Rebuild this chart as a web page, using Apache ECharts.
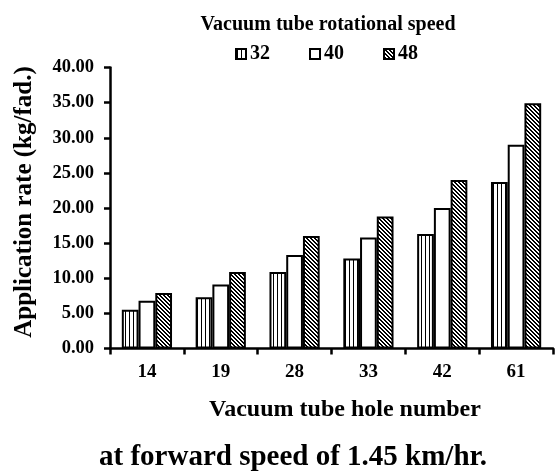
<!DOCTYPE html>
<html>
<head>
<meta charset="utf-8">
<script src="https://cdn.jsdelivr.net/npm/echarts@6/dist/echarts.min.js"></script>
<style>
html,body{margin:0;padding:0;background:#fff;}
#main{width:555px;height:474px;}
</style>
</head>
<body>
<div id="main"></div>
<script>
// hole numbers and application rate (kg/fad.) per rotational speed
var holes = ['14', '19', '28', '33', '42', '61'];
var speeds = ['32', '40', '48'];
var rate32 = [5.5, 7.3, 10.9, 12.8, 16.3, 23.7];
var rate40 = [6.8, 9.1, 13.3, 15.8, 20.0, 29.0];
var rate48 = [7.9, 10.9, 16.0, 18.8, 24.0, 34.9];
var yTicks = [0, 5, 10, 15, 20, 25, 30, 35, 40];

var FONT = "'Liberation Serif', 'Times New Roman', serif";

// fill patterns: vertical stripes and back-slash hatch
function stripes(){
	var c = document.createElement('canvas');
	c.width = 4; c.height = 4;
	var g = c.getContext('2d');
	g.fillStyle = '#fff'; g.fillRect(0,0,4,4);
	g.fillStyle = '#000'; g.fillRect(1,0,1,4);
	return c;
}
function hatch(){
	var n = 4;
	var c = document.createElement('canvas');
	c.width = n; c.height = n;
	var g = c.getContext('2d');
	g.fillStyle = '#fff'; g.fillRect(0,0,n,n);
	g.fillStyle = '#000';
	for(var x=0;x<n;x++){
		for(var y=0;y<n;y++){
			if((x - y + n) % n == 0 || (x - y + n) % n == 1) g.fillRect(x,y,1,1);
		}
	}
	return c;
}

var fills = [
	{image: stripes(), repeat: 'repeat'},
	'#ffffff',
	{image: hatch(), repeat: 'repeat'}
];
var values = [rate32, rate40, rate48];

var myChart = echarts.init(document.getElementById('main'));
var option = {
	animation: false,
	backgroundColor: '#fff',
	textStyle: {fontFamily: FONT, color: '#000'},
	title: {
		text: 'Vacuum tube rotational speed',
		left: 323, top: 10,
		textAlign: 'center',
		textStyle: {fontFamily: FONT, fontWeight: 'bold', fontSize: 20, color: '#000'}
	},
	legend: {
		left: 230, top: 39,
		icon: 'rect',
		itemWidth: 10, itemHeight: 10,
		itemGap: 39,
		data: speeds,
		textStyle: {fontFamily: FONT, fontWeight: 'bold', fontSize: 20, color: '#000', padding: [0,0,0,-1]}
	},
	grid: {left: 110, right: 2, top: 67.5, bottom: 125.5, outerBoundsMode: 'none'},
	xAxis: {
		type: 'category',
		data: holes,
		axisLine: {lineStyle: {color: '#000', width: 2.5}},
		axisTick: {show: true, length: 6, lineStyle: {color: '#000', width: 2.5}},
		axisLabel: {margin: 14, fontFamily: FONT, fontWeight: 'bold', fontSize: 19, color: '#000'}
	},
	yAxis: {
		type: 'value',
		min: yTicks[0], max: yTicks[yTicks.length-1], interval: yTicks[1]-yTicks[0],
		axisLine: {show: true, lineStyle: {color: '#000', width: 2.5}},
		axisTick: {show: true, length: 6, lineStyle: {color: '#000', width: 2.5}},
		splitLine: {show: false},
		axisLabel: {
			margin: 16, fontFamily: FONT, fontWeight: 'bold', fontSize: 18.5, color: '#000',
			formatter: function(v){ return v.toFixed(2); }
		}
	},
	series: speeds.map(function(s, i){
		return {
			name: s,
			type: 'bar',
			data: values[i],
			barGap: '0%',
			barCategoryGap: '32%',
			itemStyle: {color: fills[i], borderColor: '#000', borderWidth: 2}
		};
	}),
	graphic: [{
		type: 'text',
		x: 25, y: 202,
		rotation: Math.PI / 2,
		style: {
			text: 'Application rate (kg/fad.)',
			font: 'bold 25px ' + FONT,
			fill: '#000',
			align: 'center',
			verticalAlign: 'middle'
		}
	}, {
		type: 'text',
		x: 345, y: 410,
		style: {
			text: 'Vacuum tube hole number',
			font: 'bold 24px ' + FONT,
			fill: '#000',
			align: 'center',
			verticalAlign: 'middle'
		}
	}, {
		type: 'text',
		x: 293, y: 458,
		style: {
			text: 'at forward speed of 1.45 km/hr.',
			font: 'bold 29px ' + FONT,
			fill: '#000',
			align: 'center',
			verticalAlign: 'middle'
		}
	}]
};
myChart.setOption(option);
</script>
</body>
</html>
